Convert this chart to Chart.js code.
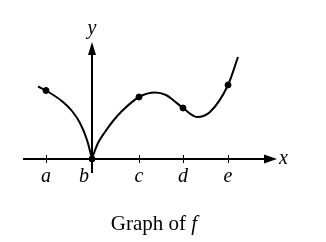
<!DOCTYPE html>
<html>
<head>
<meta charset="utf-8">
<script src="https://cdn.jsdelivr.net/npm/chart.js@4/dist/chart.umd.min.js"></script>
<style>
  html, body { margin: 0; padding: 0; background: #fff; }
  #wrap { width: 326px; height: 242px; position: relative; }
</style>
</head>
<body>
<div id="wrap"><canvas id="graphChart"></canvas></div>
<script>
// x measured from b, y measured from the x axis (same units on both)
const tickLabels = ['a', 'b', 'c', 'd', 'e'];
const tickValues = [-46, 0, 47, 91, 136];
const markedY = [68.5, 0, 62, 51, 74];

const leftX = [-54, -46, -29, -20, -12, -5, -2, 0];
const leftY = [72.5, 68.5, 57, 48, 36, 19, 8, 0];

const rightX = [0, 2, 6, 13, 21, 30, 47, 63, 74, 81, 91, 105, 118, 136, 146];
const rightY = [0, 6, 16, 27, 38, 48, 62, 66.5, 64, 59, 51, 42, 47, 74, 102];

const toPoints = (xs, ys) => xs.map((x, i) => ({ x: x, y: ys[i] }));

const SERIF = '"Liberation Serif", "DejaVu Serif", serif';

// axes, ticks and labels drawn by hand to look like a textbook figure
const axesPlugin = {
  id: 'axesPlugin',
  beforeDatasetsDraw(chart) {
    const c = chart.ctx;
    const xs = chart.scales.x, ys = chart.scales.y;
    const x0 = xs.getPixelForValue(0), y0 = ys.getPixelForValue(0);
    c.save();
    c.strokeStyle = '#000';
    c.fillStyle = '#000';
    c.lineWidth = 2;
    // x axis
    const xEnd = xs.getPixelForValue(185);
    c.beginPath();
    c.moveTo(xs.getPixelForValue(-69), y0);
    c.lineTo(xEnd - 8, y0);
    c.stroke();
    c.beginPath();
    c.moveTo(xEnd, y0);
    c.lineTo(xEnd - 13, y0 - 4.5);
    c.lineTo(xEnd - 13, y0 + 4.5);
    c.closePath();
    c.fill();
    // y axis
    const yEnd = ys.getPixelForValue(117);
    c.beginPath();
    c.moveTo(x0, ys.getPixelForValue(-14));
    c.lineTo(x0, yEnd + 8);
    c.stroke();
    c.beginPath();
    c.moveTo(x0, yEnd);
    c.lineTo(x0 - 4, yEnd + 13);
    c.lineTo(x0 + 4, yEnd + 13);
    c.closePath();
    c.fill();
    // tick marks
    c.lineWidth = 1;
    tickValues.forEach(v => {
      const px = Math.round(xs.getPixelForValue(v)) + 0.5;
      c.beginPath();
      c.moveTo(px, y0 - 4);
      c.lineTo(px, y0 + 4);
      c.stroke();
    });
    c.restore();
  },
  afterDraw(chart) {
    const c = chart.ctx;
    const xs = chart.scales.x, ys = chart.scales.y;
    const x0 = xs.getPixelForValue(0), y0 = ys.getPixelForValue(0);
    c.save();
    c.fillStyle = '#000';
    c.textBaseline = 'alphabetic';
    c.textAlign = 'center';
    c.font = 'italic 20px ' + SERIF;
    tickValues.forEach((v, i) => {
      const shift = tickLabels[i] === 'b' ? -8 : 0;
      c.fillText(tickLabels[i], xs.getPixelForValue(v) + shift, y0 + 23);
    });
    c.fillText('y', x0, 34);
    c.textAlign = 'left';
    c.fillText('x', xs.getPixelForValue(185) + 2, y0 + 5);

    // caption
    c.font = '21px ' + SERIF;
    const part1 = 'Graph of ';
    const w1 = c.measureText(part1).width;
    c.font = 'italic 21px ' + SERIF;
    const w2 = c.measureText('f').width;
    const left = 154 - (w1 + w2) / 2;
    c.textAlign = 'left';
    c.font = '21px ' + SERIF;
    c.fillText(part1, left, 230);
    c.font = 'italic 21px ' + SERIF;
    c.fillText('f', left + w1, 230);
    c.restore();
  }
};

const curveStyle = {
  borderColor: '#000',
  borderWidth: 2,
  pointRadius: 0,
  fill: false,
  cubicInterpolationMode: 'monotone'
};

new Chart(document.getElementById('graphChart'), {
  type: 'line',
  data: {
    datasets: [
      Object.assign({ label: 'left', data: toPoints(leftX, leftY) }, curveStyle),
      Object.assign({ label: 'right', data: toPoints(rightX, rightY) }, curveStyle),
      {
        type: 'scatter',
        label: 'marked',
        data: toPoints(tickValues, markedY),
        pointRadius: 3,
        pointBackgroundColor: '#000',
        pointBorderColor: '#000',
        showLine: false
      }
    ]
  },
  options: {
    responsive: true,
    maintainAspectRatio: false,
    animation: false,
    layout: { padding: { left: 22, right: 44, top: 29, bottom: 69 } },
    scales: {
      x: { type: 'linear', min: -70, max: 190, display: false },
      y: { type: 'linear', min: -14, max: 130, display: false }
    },
    plugins: {
      legend: { display: false },
      tooltip: { enabled: false }
    },
    elements: { line: { capBezierPoints: true } }
  },
  plugins: [axesPlugin]
});
</script>
</body>
</html>
